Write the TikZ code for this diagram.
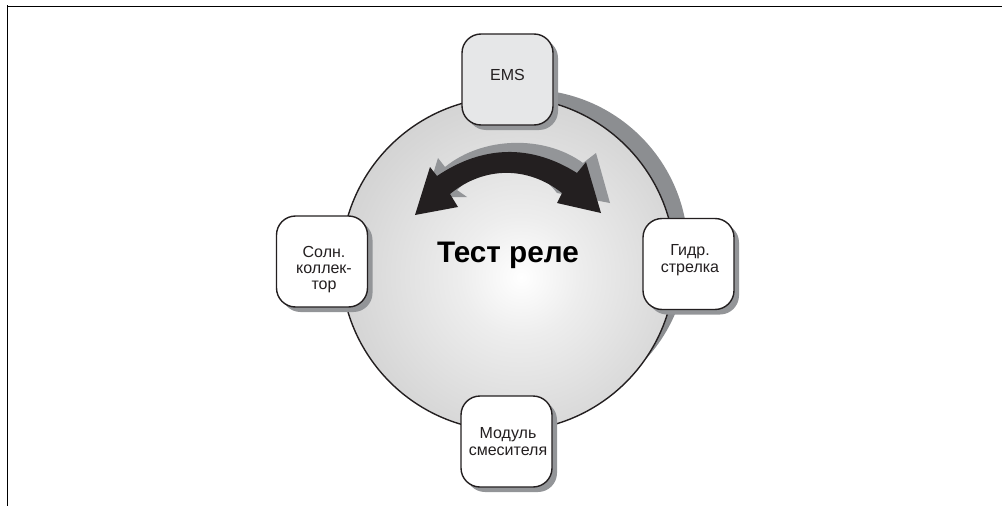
\documentclass[tikz,border=0pt]{standalone}
\usepackage{fontspec}
\setmainfont{Liberation Sans}
\pgfdeclareradialshading{discshade}{\pgfpoint{2bp}{-2bp}}{%
  color(0bp)=(white);
  color(9bp)=(white!93!black);
  color(25bp)=(white!84!black);
  color(40bp)=(white!77!black);
  color(50bp)=(white!72!black);
  color(100bp)=(white!72!black)}
\definecolor{shadowgrey}{HTML}{8C8E91}
\definecolor{arrowshadow}{HTML}{939598}
\definecolor{keyfill}{HTML}{E6E7E8}
\definecolor{arrowblack}{HTML}{231F20}
\tikzset{
  x=1pt,y=-1pt,
  framer/.style={line width=1pt,black},
  keybox/.style={draw=arrowblack,line width=1.4pt,fill=white,rounded corners=19pt,
    minimum width=91pt,minimum height=91pt,inner sep=0pt},
  keyshadow/.style={fill=arrowshadow,rounded corners=19pt,minimum width=91pt,minimum height=91pt,inner sep=0pt},
  keytext/.style={align=center,inner sep=0pt,font=\fontsize{16}{16.3}\selectfont,text=arrowblack},
}
\begin{document}
\begin{tikzpicture}
\useasboundingbox (0,0) rectangle (1002,506);
% frame
\draw[framer] (7.5,5) -- (7.5,506);
\draw[framer] (7,6) -- (1002,6);
% disc shadow
\fill[shadowgrey] (527,250.5) circle[radius=161];
% disc
\shade[shading=discshade,draw=arrowblack,line width=1.4pt] (508,264) circle[radius=167];
% arrow shadow
\fill[arrowshadow] (438,158) -- (445,167)
  .. controls (483,136) and (545,135) .. (583,163)
  -- (596,153) -- (610,203) -- (557,193)
  .. controls (530,158) and (490,158) .. (457,190)
  -- (467,197) -- (440,197) -- (425,200) -- cycle;
% arrow
\fill[arrowblack] (415,215) -- (430,167) -- (437,176)
  .. controls (483,145) and (531,144) .. (577,173)
  -- (586,162) -- (601,213) -- (557,203) -- (562,193)
  .. controls (528,166) and (484,166) .. (450,194)
  -- (458,207) -- cycle;
% boxes
\node[keyshadow] at (512.5,84.5) {};
\node[keybox,fill=keyfill] (ems) at (507.5,79.5) {};
\node[keytext] (emstext) at (507.5,75) {EMS};
\node[keyshadow] at (693.5,269) {};
\node[keybox] (hyd) at (688.5,264) {};
\node[keytext] (hydtext) at (690,260) {Гидр.\\стрелка};
\node[keyshadow] at (327,266.5) {};
\node[keybox] (sol) at (322,261.5) {};
\node[keytext] (soltext) at (324,269.5) {Солн.\\коллек-\\тор};
\node[keyshadow] at (511.5,446.5) {};
\node[keybox] (mix) at (506.5,441.5) {};
\node[keytext] (mixtext) at (508,441.5) {Модуль\\смесителя};
\node[font=\fontsize{29.7}{32}\selectfont\bfseries,text=black] (title) at (508,255) {Тест реле};
\end{tikzpicture}
\end{document}
